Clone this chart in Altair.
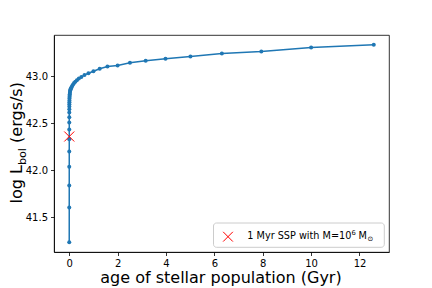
import altair as alt
import pandas as pd

# ages of the stellar population (Gyr), log-spaced
ages = [0.000316, 0.000398, 0.000501, 0.000631, 0.000794, 0.001, 0.00126, 0.00158,
        0.002, 0.00251, 0.00316, 0.00398, 0.00501, 0.00631, 0.00794, 0.01, 0.0126,
        0.0158, 0.02, 0.0251, 0.0316, 0.0398, 0.0501, 0.0631, 0.0794, 0.1, 0.126,
        0.158, 0.2, 0.251, 0.316, 0.398, 0.501, 0.631, 0.794, 1.0, 1.26, 1.58, 2.0,
        2.51, 3.16, 3.98, 5.01, 6.31, 7.94, 10.0, 12.59]
# log bolometric luminosity (ergs/s)
log_lbol = [41.234, 41.603, 41.837, 42.039, 42.199, 42.33, 42.435, 42.51, 42.566,
            42.615, 42.65, 42.68, 42.705, 42.725, 42.745, 42.765, 42.78, 42.795,
            42.81, 42.825, 42.838, 42.85, 42.86, 42.87, 42.878, 42.888, 42.90,
            42.915, 42.93, 42.945, 42.96, 42.978, 42.995, 43.015, 43.035, 43.056,
            43.082, 43.106, 43.117, 43.146, 43.167, 43.188, 43.213, 43.245, 43.266,
            43.309, 43.337]

ssp_age = [0.001]
ssp_lbol = [42.36]

x_ticks = [0, 2, 4, 6, 8, 10, 12]
y_ticks = [41.5, 42.0, 42.5, 43.0]

FONT = "DejaVu Sans"
BLUE = "#1f77b4"
W, H = 335, 217

df = pd.DataFrame({"age": ages, "lbol": log_lbol})
ssp = pd.DataFrame({"age": ssp_age, "lbol": ssp_lbol})
one = pd.DataFrame({"a": [0]})

xs = alt.Scale(domain=[-0.63, 13.22], nice=False, zero=False)
ys = alt.Scale(domain=[41.129, 43.442], nice=False, zero=False)

xenc = alt.X("age:Q", scale=xs, axis=alt.Axis(values=x_ticks, title=None, format="d"))
yenc = alt.Y("lbol:Q", scale=ys, axis=alt.Axis(values=y_ticks, title=None, format=".1f"))

line = alt.Chart(df).mark_line(color=BLUE, strokeWidth=1.5).encode(x=xenc, y=yenc)
pts = alt.Chart(df).mark_circle(color=BLUE, size=16, opacity=1).encode(x="age:Q", y="lbol:Q")

XPATH = "M-1,-1L1,1M1,-1L-1,1"
cross = alt.Chart(ssp).mark_point(shape=XPATH, color="red", size=100, strokeWidth=1,
                                  opacity=1, filled=False).encode(x="age:Q", y="lbol:Q")

# legend
leg_box = alt.Chart(one).mark_rect(fill="white", fillOpacity=0.8, stroke="#cccccc",
                                   strokeWidth=1, cornerRadius=3).encode(
    x=alt.value(159.5), x2=alt.value(330.3), y=alt.value(188), y2=alt.value(212.3))
leg_sym = alt.Chart(one).mark_point(shape=XPATH, color="red", size=95, strokeWidth=1,
                                    opacity=1, filled=False).encode(
    x=alt.value(174), y=alt.value(201.7))

def txt(s, x, y, size, **kw):
    return alt.Chart(one).mark_text(text=s, font=FONT, fontSize=size, align="left",
                                    baseline="alphabetic", color="black", **kw).encode(
        x=alt.value(x), y=alt.value(y))

leg_t1 = txt("1 Myr SSP with M=10", 193.3, 204, 9.7)
leg_t2 = txt("6", 297.6, 200.3, 6.8)
leg_t3 = txt("M", 304.5, 204, 9.7)
leg_t4 = txt("\u2299", 313.4, 206, 6.8)

# y-axis title with subscript
yt1 = txt("log L", -32, 168.5, 16, angle=270)
yt2 = txt("bol", -28.5, 130.1, 11.2, angle=270)
yt3 = txt("(ergs/s)", -32, 107.9, 16, angle=270)

# x-axis title
xt = alt.Chart(one).mark_text(text="age of stellar population (Gyr)", font=FONT,
                              fontSize=16, align="center", baseline="alphabetic",
                              color="black").encode(x=alt.value(W / 2 - 0.5), y=alt.value(248))

chart = alt.layer(line, pts, cross, leg_box, leg_sym, leg_t1, leg_t2, leg_t3, leg_t4,
                  yt1, yt2, yt3, xt).properties(
    width=W, height=H,
    autosize=alt.AutoSizeParams(type="none"),
    padding={"left": 46, "top": 27, "right": 30, "bottom": 40},
).configure_view(stroke="black", strokeWidth=0.8).configure_axis(
    grid=False, domainColor="black", domainWidth=0.8, tickColor="black", tickWidth=0.8,
    tickSize=3.5, labelFont=FONT, labelFontSize=10, labelColor="black",
    titleFont=FONT, titleColor="black", labelPadding=3
)

chart.save("out.html", embed_options={"renderer": "svg", "actions": False})
